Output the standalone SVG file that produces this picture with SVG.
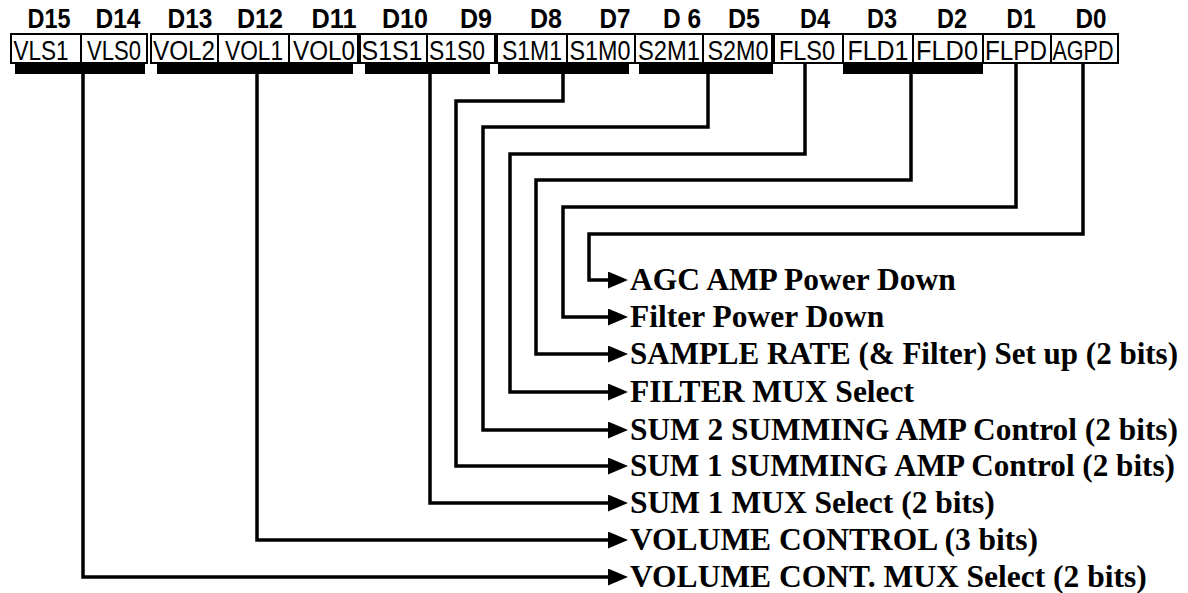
<svg xmlns="http://www.w3.org/2000/svg" width="1188" height="593" viewBox="0 0 1188 593">
<style>
.bg{fill:#fff}
.box{fill:#fff;stroke:#000;stroke-width:2}
.bit{font-family:"Liberation Sans Narrow","Liberation Sans",Arial,sans-serif;font-weight:bold;font-size:27px;fill:#000;text-anchor:middle}
.lbl{font-family:"Liberation Sans Narrow","Liberation Sans",Arial,sans-serif;font-size:27px;fill:#000;text-anchor:middle}
.bar{fill:#000}
.wire{fill:none;stroke:#000;stroke-width:3.5;stroke-linejoin:miter;stroke-linecap:butt;marker-end:url(#arr)}
.out{font-family:"Liberation Serif","Times New Roman",serif;font-weight:bold;font-size:31.5px;fill:#000}
</style>
<defs>
<marker id="arr" markerUnits="userSpaceOnUse" markerWidth="21" markerHeight="18" refX="2" refY="8.5" orient="auto">
<path d="M0,0 L20,8.5 L0,17 Z" fill="#000"/>
</marker>
</defs>
<rect class="bg" x="0" y="0" width="1188" height="593"/>

<g id="bits">
<g id="bit-d15"><text class="bit" x="49" y="28" textLength="43" lengthAdjust="spacingAndGlyphs">D15</text><rect class="box" x="11" y="34" width="70" height="29"/><text class="lbl" x="41" y="60" textLength="55" lengthAdjust="spacingAndGlyphs">VLS1</text></g>
<g id="bit-d14"><text class="bit" x="118" y="28" textLength="45" lengthAdjust="spacingAndGlyphs">D14</text><rect class="box" x="81" y="34" width="66" height="29"/><text class="lbl" x="114" y="60" textLength="54" lengthAdjust="spacingAndGlyphs">VLS0</text></g>
<g id="bit-d13"><text class="bit" x="190" y="28" textLength="45" lengthAdjust="spacingAndGlyphs">D13</text><rect class="box" x="151" y="34" width="67" height="29"/><text class="lbl" x="184" y="60" textLength="62" lengthAdjust="spacingAndGlyphs">VOL2</text></g>
<g id="bit-d12"><text class="bit" x="260" y="28" textLength="46" lengthAdjust="spacingAndGlyphs">D12</text><rect class="box" x="218" y="34" width="71" height="29"/><text class="lbl" x="254" y="60" textLength="58" lengthAdjust="spacingAndGlyphs">VOL1</text></g>
<g id="bit-d11"><text class="bit" x="334" y="28" textLength="45" lengthAdjust="spacingAndGlyphs">D11</text><rect class="box" x="289" y="34" width="69" height="29"/><text class="lbl" x="324" y="60" textLength="62" lengthAdjust="spacingAndGlyphs">VOL0</text></g>
<g id="bit-d10"><text class="bit" x="405" y="28" textLength="46" lengthAdjust="spacingAndGlyphs">D10</text><rect class="box" x="360" y="34" width="67" height="29"/><text class="lbl" x="392" y="60" textLength="61" lengthAdjust="spacingAndGlyphs">S1S1</text></g>
<g id="bit-d9"><text class="bit" x="476" y="28" textLength="32" lengthAdjust="spacingAndGlyphs">D9</text><rect class="box" x="427" y="34" width="68" height="29"/><text class="lbl" x="457" y="60" textLength="56" lengthAdjust="spacingAndGlyphs">S1S0</text></g>
<g id="bit-d8"><text class="bit" x="546" y="28" textLength="32" lengthAdjust="spacingAndGlyphs">D8</text><rect class="box" x="497" y="34" width="70" height="29"/><text class="lbl" x="532" y="60" textLength="60" lengthAdjust="spacingAndGlyphs">S1M1</text></g>
<g id="bit-d7"><text class="bit" x="615" y="28" textLength="31" lengthAdjust="spacingAndGlyphs">D7</text><rect class="box" x="567" y="34" width="68" height="29"/><text class="lbl" x="600" y="60" textLength="61" lengthAdjust="spacingAndGlyphs">S1M0</text></g>
<g id="bit-d6"><text class="bit" x="682" y="28" textLength="38" lengthAdjust="spacingAndGlyphs">D 6</text><rect class="box" x="635" y="34" width="68" height="29"/><text class="lbl" x="669" y="60" textLength="62" lengthAdjust="spacingAndGlyphs">S2M1</text></g>
<g id="bit-d5"><text class="bit" x="744" y="28" textLength="32" lengthAdjust="spacingAndGlyphs">D5</text><rect class="box" x="703" y="34" width="69" height="29"/><text class="lbl" x="738" y="60" textLength="61" lengthAdjust="spacingAndGlyphs">S2M0</text></g>
<g id="bit-d4"><text class="bit" x="815" y="28" textLength="30" lengthAdjust="spacingAndGlyphs">D4</text><rect class="box" x="774" y="34" width="69" height="29"/><text class="lbl" x="807" y="60" textLength="56" lengthAdjust="spacingAndGlyphs">FLS0</text></g>
<g id="bit-d3"><text class="bit" x="882" y="28" textLength="30" lengthAdjust="spacingAndGlyphs">D3</text><rect class="box" x="843" y="34" width="70" height="29"/><text class="lbl" x="878" y="60" textLength="61" lengthAdjust="spacingAndGlyphs">FLD1</text></g>
<g id="bit-d2"><text class="bit" x="952" y="28" textLength="30" lengthAdjust="spacingAndGlyphs">D2</text><rect class="box" x="913" y="34" width="70" height="29"/><text class="lbl" x="947" y="60" textLength="62" lengthAdjust="spacingAndGlyphs">FLD0</text></g>
<g id="bit-d1"><text class="bit" x="1021" y="28" textLength="29" lengthAdjust="spacingAndGlyphs">D1</text><rect class="box" x="983" y="34" width="68" height="29"/><text class="lbl" x="1016" y="60" textLength="62" lengthAdjust="spacingAndGlyphs">FLPD</text></g>
<g id="bit-d0"><text class="bit" x="1091" y="28" textLength="31" lengthAdjust="spacingAndGlyphs">D0</text><rect class="box" x="1051" y="34" width="67" height="29"/><text class="lbl" x="1083" y="60" textLength="61" lengthAdjust="spacingAndGlyphs">AGPD</text></g>
</g>

<g id="field-bars">
<rect class="bar" x="15" y="64" width="130" height="10"/>
<rect class="bar" x="157" y="64" width="196" height="10"/>
<rect class="bar" x="365" y="64" width="125" height="10"/>
<rect class="bar" x="498" y="64" width="131" height="10"/>
<rect class="bar" x="639" y="64" width="134" height="10"/>
<rect class="bar" x="843" y="64" width="140" height="10"/>
</g>

<g id="connectors">
<path class="wire" d="M1083,63 V234 H589 V280 H610"/>
<path class="wire" d="M1016,63 V207 H563 V317 H610"/>
<path class="wire" d="M911,74 V180 H536 V354 H610"/>
<path class="wire" d="M805,63 V154 H510 V392 H610"/>
<path class="wire" d="M708,74 V127 H483 V430 H610"/>
<path class="wire" d="M563,74 V101 H456 V466 H610"/>
<path class="wire" d="M430,74 V503 H610"/>
<path class="wire" d="M257,74 V540 H610"/>
<path class="wire" d="M83,74 V577 H610"/>
</g>

<g id="outputs">
<g id="out-agc"><text class="out" x="630" y="290">AGC AMP Power Down</text></g>
<g id="out-flpd"><text class="out" x="630" y="327">Filter Power Down</text></g>
<g id="out-fld"><text class="out" x="630" y="364" textLength="548" lengthAdjust="spacingAndGlyphs">SAMPLE RATE (&amp; Filter) Set up (2 bits)</text></g>
<g id="out-fls"><text class="out" x="630" y="402">FILTER MUX Select</text></g>
<g id="out-s2m"><text class="out" x="630" y="440" textLength="548" lengthAdjust="spacingAndGlyphs">SUM 2 SUMMING AMP Control (2 bits)</text></g>
<g id="out-s1m"><text class="out" x="630" y="476" textLength="545" lengthAdjust="spacingAndGlyphs">SUM 1 SUMMING AMP Control (2 bits)</text></g>
<g id="out-s1s"><text class="out" x="630" y="513">SUM 1 MUX Select (2 bits)</text></g>
<g id="out-vol"><text class="out" x="630" y="550">VOLUME CONTROL (3 bits)</text></g>
<g id="out-vls"><text class="out" x="630" y="587">VOLUME CONT. MUX Select (2 bits)</text></g>
</g>
</svg>
